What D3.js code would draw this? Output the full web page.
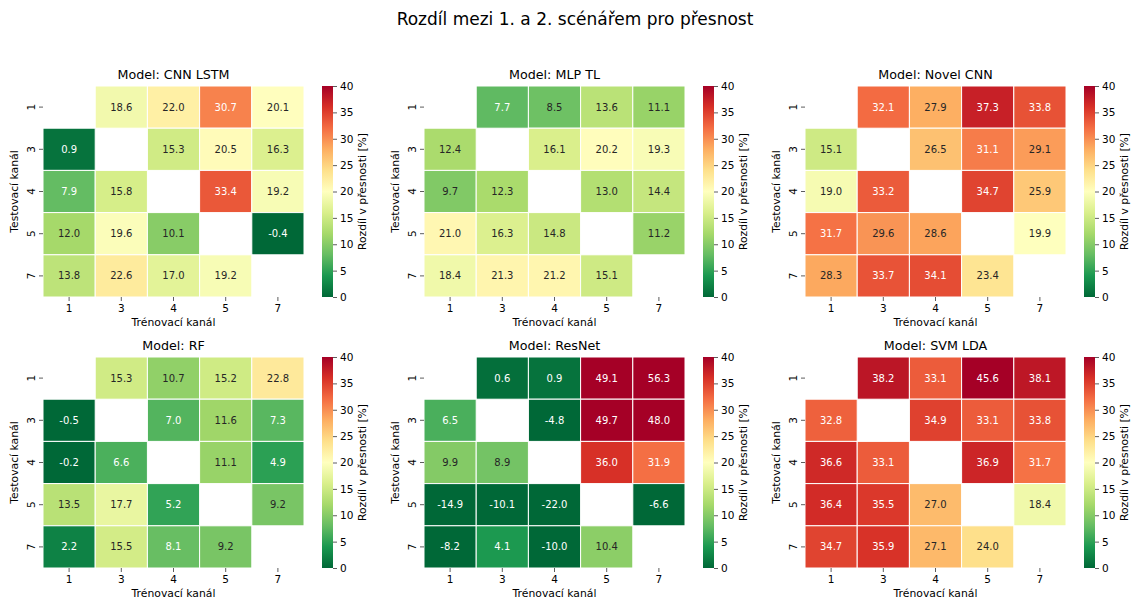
<!DOCTYPE html>
<html>
<head>
<meta charset="utf-8">
<script src="https://cdn.jsdelivr.net/npm/d3@7"></script>
<style>
  body { margin: 0; background: #fff; }
  svg { font-family: "DejaVu Sans", sans-serif; }
</style>
</head>
<body>
<div id="chart"></div>
<script>
// Channels
const trainChannels = ["1", "3", "4", "5", "7"];
const testChannels = ["1", "3", "4", "5", "7"];
const models = ["CNN LSTM", "MLP TL", "Novel CNN", "RF", "ResNet", "SVM LDA"];
const cbTicks = [0, 5, 10, 15, 20, 25, 30, 35, 40];

// rows = test channel, cols = train channel, null = diagonal
const cnnLstm = [
  [null, 18.6, 22.0, 30.7, 20.1],
  [0.9, null, 15.3, 20.5, 16.3],
  [7.9, 15.8, null, 33.4, 19.2],
  [12.0, 19.6, 10.1, null, -0.4],
  [13.8, 22.6, 17.0, 19.2, null]
];
const mlpTl = [
  [null, 7.7, 8.5, 13.6, 11.1],
  [12.4, null, 16.1, 20.2, 19.3],
  [9.7, 12.3, null, 13.0, 14.4],
  [21.0, 16.3, 14.8, null, 11.2],
  [18.4, 21.3, 21.2, 15.1, null]
];
const novelCnn = [
  [null, 32.1, 27.9, 37.3, 33.8],
  [15.1, null, 26.5, 31.1, 29.1],
  [19.0, 33.2, null, 34.7, 25.9],
  [31.7, 29.6, 28.6, null, 19.9],
  [28.3, 33.7, 34.1, 23.4, null]
];
const rf = [
  [null, 15.3, 10.7, 15.2, 22.8],
  [-0.5, null, 7.0, 11.6, 7.3],
  [-0.2, 6.6, null, 11.1, 4.9],
  [13.5, 17.7, 5.2, null, 9.2],
  [2.2, 15.5, 8.1, 9.2, null]
];
const resNet = [
  [null, 0.6, 0.9, 49.1, 56.3],
  [6.5, null, -4.8, 49.7, 48.0],
  [9.9, 8.9, null, 36.0, 31.9],
  [-14.9, -10.1, -22.0, null, -6.6],
  [-8.2, 4.1, -10.0, 10.4, null]
];
const svmLda = [
  [null, 38.2, 33.1, 45.6, 38.1],
  [32.8, null, 34.9, 33.1, 33.8],
  [36.6, 33.1, null, 36.9, 31.7],
  [36.4, 35.5, 27.0, null, 18.4],
  [34.7, 35.9, 27.1, 24.0, null]
];
const matrices = [cnnLstm, mlpTl, novelCnn, rf, resNet, svmLda];

// Set Dimensions
const width = 1134;
const height = 601;
const panelX = [43, 424, 805];
const panelY = [86, 357];
const hmW = 261;
const hmH = 211;
const cbOffset = 279;
const cbW = 11;
const vmin = 0, vmax = 40;

// RdYlGn reversed (ColorBrewer stops, linear like matplotlib)
const rdYlGn = ["#a50026", "#d73027", "#f46d43", "#fdae61", "#fee08b", "#ffffbf",
                "#d9ef8b", "#a6d96a", "#66bd63", "#1a9850", "#006837"];
const stops = rdYlGn.slice().reverse();
const cmap = d3.scaleLinear()
  .domain(d3.range(stops.length).map(i => vmin + (vmax - vmin) * i / (stops.length - 1)))
  .range(stops)
  .interpolate(d3.interpolateRgb)
  .clamp(true);

function luminance(c) {
  const rgb = d3.rgb(c);
  const lin = v => { v = v / 255; return v <= 0.03928 ? v / 12.92 : Math.pow((v + 0.055) / 1.055, 2.4); };
  return 0.2126 * lin(rgb.r) + 0.7152 * lin(rgb.g) + 0.0722 * lin(rgb.b);
}

const svg = d3.select("#chart").append("svg")
  .attr("width", width)
  .attr("height", height);

svg.append("text")
  .attr("x", 575)
  .attr("y", 25)
  .attr("text-anchor", "middle")
  .style("font-size", "17px")
  .style("fill", "#000")
  .text("Rozdíl mezi 1. a 2. scénářem pro přesnost");

// gradient for colorbars
const grad = svg.append("defs").append("linearGradient")
  .attr("id", "cbgrad")
  .attr("x1", 0).attr("y1", 1).attr("x2", 0).attr("y2", 0);
stops.forEach((c, i) => {
  grad.append("stop").attr("offset", i / (stops.length - 1)).attr("stop-color", c);
});

models.forEach((model, k) => {
  const data = matrices[k];
  const ox = panelX[k % 3];
  const oy = panelY[Math.floor(k / 3)];

  const g = svg.append("g").attr("transform", "translate(" + ox + "," + oy + ")");

  const x = d3.scaleBand().domain(trainChannels).range([0, hmW]);
  const y = d3.scaleBand().domain(testChannels).range([0, hmH]);

  const cells = [];
  data.forEach((row, i) => row.forEach((v, j) => {
    if (v !== null) cells.push({ test: testChannels[i], train: trainChannels[j], v: v });
  }));

  g.append("g").selectAll("rect")
    .data(cells).enter()
    .append("rect")
    .attr("x", d => x(d.train))
    .attr("y", d => y(d.test))
    .attr("width", x.bandwidth())
    .attr("height", y.bandwidth())
    .style("fill", d => cmap(d.v))
    .style("stroke", "#fff")
    .style("stroke-width", 1);

  g.append("g").selectAll("text")
    .data(cells).enter()
    .append("text")
    .attr("x", d => x(d.train) + x.bandwidth() / 2)
    .attr("y", d => y(d.test) + y.bandwidth() / 2)
    .attr("dy", "0.35em")
    .attr("text-anchor", "middle")
    .style("font-size", "10px")
    .style("fill", d => luminance(cmap(d.v)) > 0.408 ? "#262626" : "#fff")
    .text(d => d.v.toFixed(1));

  // X Axis
  const xAxis = g.append("g")
    .attr("transform", "translate(0," + hmH + ")")
    .call(d3.axisBottom(x).tickSize(4).tickPadding(4));
  // Y Axis
  const yAxis = g.append("g")
    .call(d3.axisLeft(y).tickSize(4).tickPadding(4));
  yAxis.selectAll(".tick text")
    .attr("transform", "rotate(-90)")
    .attr("x", 0)
    .attr("y", -12)
    .attr("dy", "0.35em")
    .attr("text-anchor", "middle");
  [xAxis, yAxis].forEach(a => {
    a.select(".domain").remove();
    a.selectAll(".tick line").style("stroke", "#333").style("stroke-width", 0.8);
    a.selectAll(".tick text").style("font-size", "10.5px").style("fill", "#000")
      .style("font-family", "DejaVu Sans");
  });

  g.append("text")
    .attr("x", hmW / 2)
    .attr("y", hmH + 29)
    .attr("text-anchor", "middle")
    .style("font-size", "10.8px")
    .text("Trénovací kanál");

  g.append("text")
    .attr("transform", "translate(-25," + hmH / 2 + ") rotate(-90)")
    .attr("text-anchor", "middle")
    .style("font-size", "10.8px")
    .text("Testovací kanál");

  g.append("text")
    .attr("x", hmW / 2)
    .attr("y", -7)
    .attr("text-anchor", "middle")
    .style("font-size", "12.7px")
    .text("Model: " + model);

  // Colorbar
  const cb = g.append("g").attr("transform", "translate(" + cbOffset + ",0)");
  cb.append("rect")
    .attr("width", cbW)
    .attr("height", hmH)
    .style("fill", "url(#cbgrad)");
  const cy = d3.scaleLinear().domain([vmin, vmax]).range([hmH, 0]);
  const cbAxis = cb.append("g")
    .attr("transform", "translate(" + cbW + ",0)")
    .call(d3.axisRight(cy).tickValues(cbTicks).tickSize(4).tickPadding(3));
  cbAxis.select(".domain").remove();
  cbAxis.selectAll(".tick line").style("stroke", "#333").style("stroke-width", 0.8);
  cbAxis.selectAll(".tick text").style("font-size", "10.5px").style("fill", "#000")
    .style("font-family", "DejaVu Sans");
  cb.append("text")
    .attr("transform", "translate(" + (cbW + 33) + "," + hmH / 2 + ") rotate(-90)")
    .attr("text-anchor", "middle")
    .style("font-size", "10.8px")
    .text("Rozdíl v přesnosti [%]");
});
</script>
</body>
</html>
